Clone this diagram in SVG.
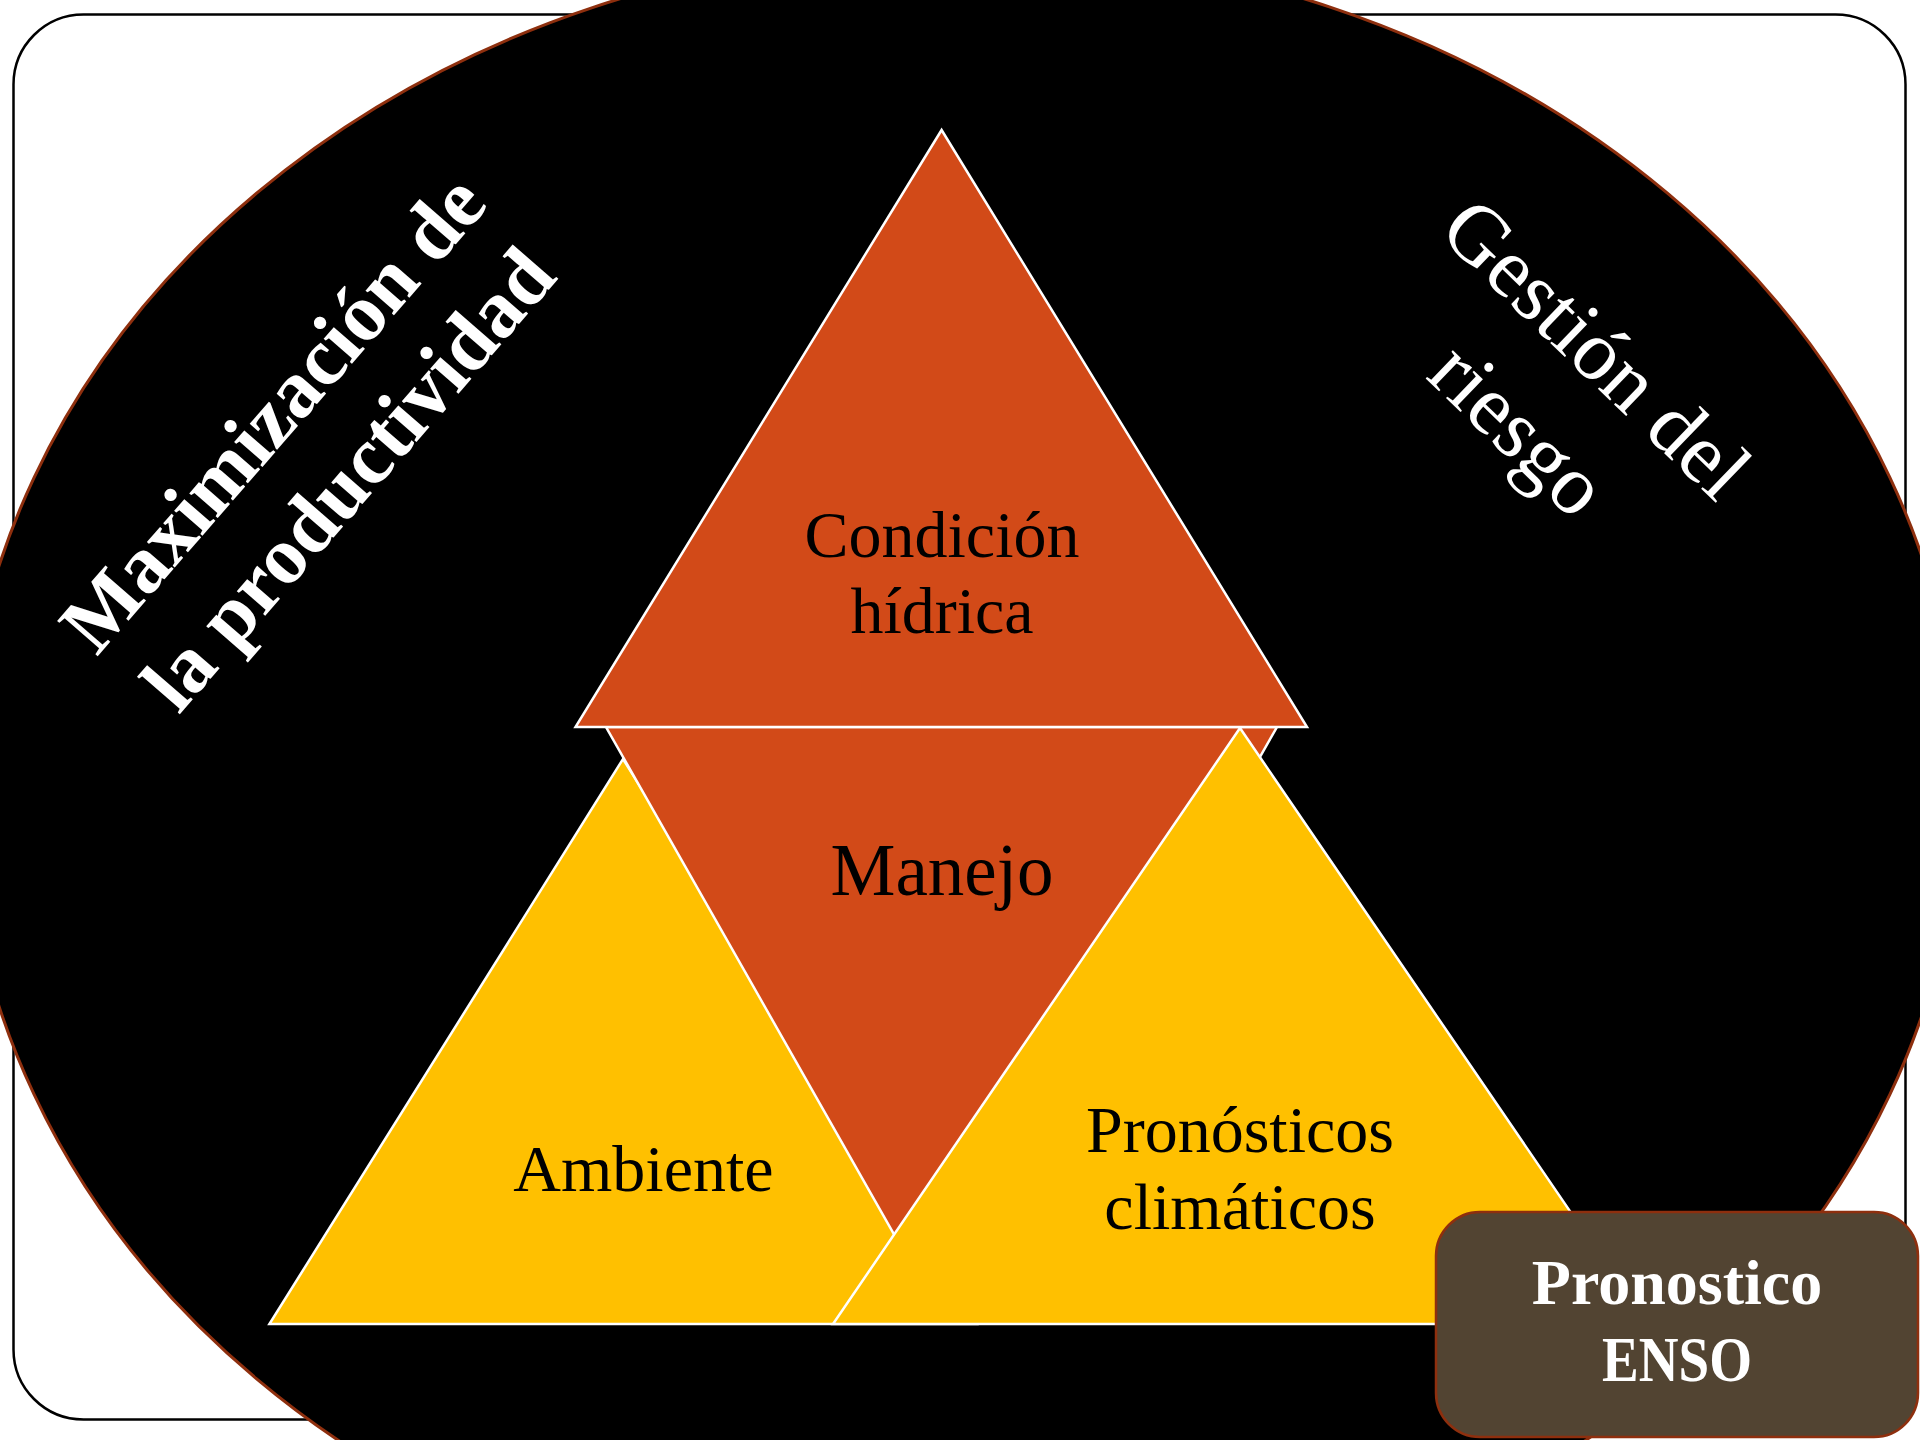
<svg xmlns="http://www.w3.org/2000/svg" width="1920" height="1440" viewBox="0 0 1920 1440">
  <style>
    .serif { font-family: "Liberation Serif", "Times New Roman", serif; }
    .tri { stroke: #FFFFFF; stroke-width: 2.5; stroke-linejoin: miter; }
    .red { fill: #D24A18; }
    .yel { fill: #FFC000; }
    .lbl { font-size: 66px; fill: #000000; text-anchor: middle; }
    .side { fill: #FFFFFF; text-anchor: middle; font-size: 85px; }
  </style>

  <!-- page frame -->
  <rect id="frame" x="13.5" y="14.5" width="1892" height="1405" rx="70" ry="70" fill="#FFFFFF" stroke="#000000" stroke-width="2.5"/>

  <!-- large backdrop ellipse -->
  <g id="backdrop">
    <ellipse cx="962" cy="786" rx="998" ry="838" fill="#000000" stroke="#8E2F0E" stroke-width="3"/>
  </g>

  <!-- side captions -->
  <g id="maximizacion" class="serif" transform="translate(331,464) rotate(-49)">
    <text class="side" x="0" y="-50" font-weight="bold" style="font-size:82px">Maximización de</text>
    <text class="side" x="0" y="50" font-weight="bold" style="font-size:82px">la productividad</text>
  </g>
  <g id="gestion" class="serif" transform="translate(1538,409) rotate(44)">
    <text class="side" x="0" y="-56">Gestión del</text>
    <text class="side" x="0" y="56">riesgo</text>
  </g>

  <!-- triangles -->
  <g id="ambiente" class="serif">
    <polygon class="tri yel" points="623,759 976.6,1324 269.4,1324"/>
    <text class="lbl" x="643.5" y="1191">Ambiente</text>
  </g>
  <g id="manejo" class="serif">
    <polygon class="tri red" points="606,727 1277,727 941.5,1318" stroke-linejoin="round"/>
    <text class="lbl" x="942" y="895" style="font-size:73px">Manejo</text>
  </g>
  <g id="pronosticos" class="serif">
    <polygon class="tri yel" points="1240,728 1647,1324 833,1324"/>
    <text class="lbl" x="1240" y="1152">Pronósticos</text>
    <text class="lbl" x="1240" y="1229">climáticos</text>
  </g>
  <g id="condicion" class="serif">
    <polygon class="tri red" points="941.6,130 1307,727 575.5,727"/>
    <text class="lbl" x="942" y="557">Condición</text>
    <text class="lbl" x="942" y="633">hídrica</text>
  </g>

  <!-- ENSO box -->
  <g id="enso" class="serif">
    <rect x="1436" y="1212" width="482" height="225" rx="44" ry="44" fill="#524432" stroke="#8E2F0E" stroke-width="2.5"/>
    <text x="1677" y="1304" fill="#FFFFFF" font-size="64" font-weight="bold" text-anchor="middle">Pronostico</text>
    <text x="1677" y="1381" fill="#FFFFFF" font-size="64" font-weight="bold" text-anchor="middle" textLength="150" lengthAdjust="spacingAndGlyphs">ENSO</text>
  </g>
</svg>
